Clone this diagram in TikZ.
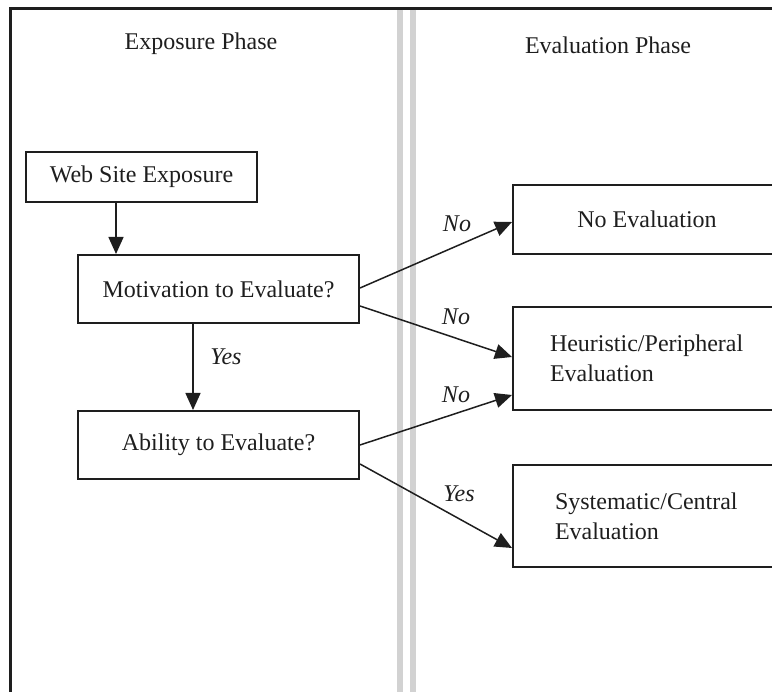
\documentclass[tikz,border=0pt]{standalone}
\usepackage{fontspec}
\setmainfont{Liberation Serif}
\usetikzlibrary{arrows.meta,calc}

\definecolor{ink}{HTML}{1E1E1E}
\definecolor{divider}{HTML}{D2D2D2}

\tikzset{
  x=1pt, y=-1pt,
  every node/.style={font=\fontsize{24}{30}\selectfont, text=ink},
  box/.style={draw=ink, line width=2pt, inner sep=0pt, align=center},
  outbox/.style={draw=ink, line width=2pt, inner ysep=0pt, anchor=west,
                 minimum width=268pt, align=left},
  arr/.style={draw=ink, line width=1.5pt, -{Triangle[length=17pt,width=15pt]}},
  lbl/.style={font=\fontsize{24}{30}\selectfont\itshape},
  phase/.style={},
  frame/.style={draw=ink, line width=2.6pt},
  lane/.style={draw=divider, line width=6pt},
}

\begin{document}
\begin{tikzpicture}
\useasboundingbox (0,0) rectangle (772,692);
\clip (0,0) rectangle (772,692);

% outer frame (left and top edges) and lane divider
\draw[frame] (10.5,700) -- (10.5,8.5) -- (790,8.5);
\draw[lane] (400,10) -- (400,700);
\draw[lane] (413,10) -- (413,700);

% phase headings
\node[phase] (hexp) at (201,44) {Exposure Phase};
\node[phase] (heval) at (608,45) {Evaluation Phase};

% exposure phase boxes
\node[box, minimum width=231pt, minimum height=50pt] (web) at (141.5,177) {Web Site Exposure};
\node[box, minimum width=281pt, minimum height=68pt] (mot) at (218.5,289) {Motivation to Evaluate?};
\node[box, minimum width=281pt, minimum height=68pt] (abl) at (218.5,445) {Ability to Evaluate?};

% evaluation phase boxes
\node[box, anchor=west, minimum width=268pt, minimum height=69pt] (noev) at (512,219.5) {No Evaluation};
\node[outbox, inner xsep=37pt, text width=200pt, minimum height=103pt] (heur) at (512,358.5)
  {Heuristic/Peripheral\\Evaluation};
\node[outbox, inner xsep=42pt, text width=200pt, minimum height=102pt] (sys) at (512,516)
  {Systematic/Central\\Evaluation};

% connectors
\coordinate (col1) at (116,0);
\coordinate (col2) at (193,0);
\draw[arr] (web.south -| col1) -- (mot.north -| col1);
\draw[arr] (mot.south -| col2) -- (abl.north -| col2);
\draw[arr] ($(mot.east)+(0,-1)$) -- ($(noev.west)+(0,2.5)$);
\draw[arr] ($(mot.east)+(0,17)$) -- ($(heur.west)+(0,-1.5)$);
\draw[arr] (abl.east) -- ($(heur.west)+(0,36.5)$);
\draw[arr] ($(abl.east)+(0,19)$) -- ($(sys.west)+(0,32)$);

% connector labels
\node[lbl] (lyes1) at (226,357) {Yes};
\node[lbl] (lno1) at (457,224) {No};
\node[lbl] (lno2) at (456,317) {No};
\node[lbl] (lno3) at (456,395) {No};
\node[lbl] (lyes2) at (459,494) {Yes};
\end{tikzpicture}
\end{document}
